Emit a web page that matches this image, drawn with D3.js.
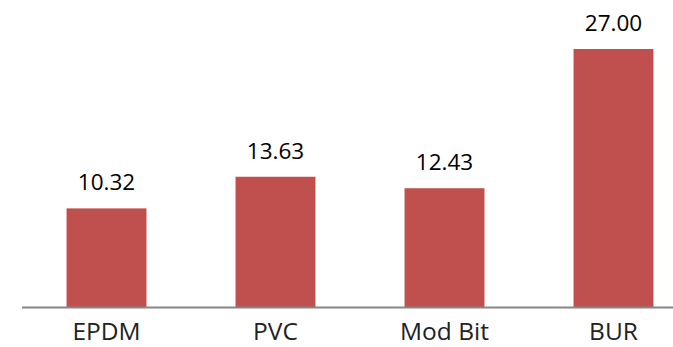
<!DOCTYPE html>
<html>
<head>
<meta charset="utf-8">
<script src="https://cdn.jsdelivr.net/npm/d3@7"></script>
<style>
  html, body { margin: 0; padding: 0; background: #fff; }
  svg { display: block; }
  text { font-family: "Open Sans", "Noto Sans", sans-serif; }
</style>
</head>
<body>
<svg id="chart" width="673" height="347"></svg>
<script>
// Roofing system categories and their values
const categories = ["EPDM", "PVC", "Mod Bit", "BUR"];
const values = [10.32, 13.63, 12.43, 27.00];

const svg = d3.select("#chart");
const baseY = 307;

const x = d3.scaleBand()
  .domain(categories)
  .range([22, 698])
  .paddingInner(0.527)
  .paddingOuter(0.2635);

const y = d3.scaleLinear()
  .domain([0, 27])
  .range([baseY, 49]);

// bars
svg.selectAll("rect.bar")
  .data(categories)
  .join("rect")
  .attr("class", "bar")
  .attr("x", d => x(d))
  .attr("width", x.bandwidth())
  .attr("y", (d, i) => y(values[i]))
  .attr("height", (d, i) => baseY - y(values[i]))
  .attr("fill", "#C0504D");

// value labels
svg.selectAll("text.val")
  .data(categories)
  .join("text")
  .attr("class", "val")
  .attr("x", d => x(d) + x.bandwidth() / 2)
  .attr("y", (d, i) => y(values[i]) - 18)
  .attr("text-anchor", "middle")
  .attr("font-size", 22.5)
  .attr("fill", "#000")
  .text((d, i) => d3.format(".2f")(values[i]));

// category axis
const axis = svg.append("g")
  .attr("transform", `translate(0,${baseY})`)
  .call(d3.axisBottom(x).tickSize(0).tickPadding(0));
axis.select(".domain")
  .attr("d", `M22,0.5H673`)
  .attr("stroke", "#868686")
  .attr("stroke-width", 2);
axis.selectAll(".tick text")
  .attr("font-family", "\"Open Sans\", \"Noto Sans\", sans-serif")
  .attr("font-size", 24.5)
  .attr("fill", "#222")
  .attr("dy", null)
  .attr("y", 33);
</script>
</body>
</html>
